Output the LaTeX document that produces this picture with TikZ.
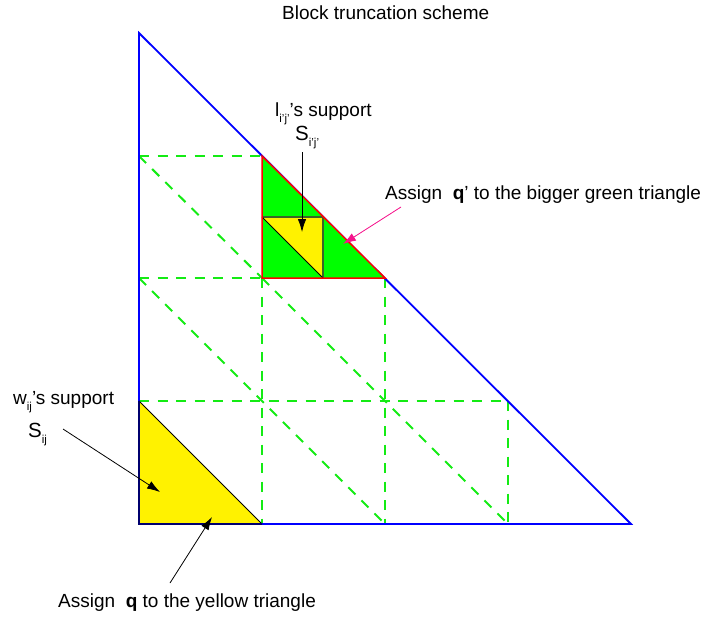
\documentclass[tikz,border=0pt]{standalone}
\usepackage{fontspec}
\setmainfont{Liberation Sans}
\usetikzlibrary{arrows.meta}
\definecolor{grn}{RGB}{0,255,0}
\definecolor{dgrn}{RGB}{20,235,20}
\definecolor{pinkarrow}{RGB}{245,20,140}
\definecolor{innerline}{RGB}{60,100,40}
\definecolor{navyline}{RGB}{0,0,110}
\newcommand\subtxt[1]{\raisebox{-6.5pt}{\fontsize{11.5}{12}\selectfont #1}}
\begin{document}
\begin{tikzpicture}[x=1pt,y=-1pt,
  gridline/.style={draw=dgrn,line width=2pt,dash pattern=on 10pt off 8.5pt},
  outline/.style={draw=blue,line width=1.8pt},
  lbl/.style={inner sep=0pt,anchor=base west,font=\fontsize{19}{22}\selectfont},
  biglbl/.style={lbl,font=\fontsize{20.5}{22}\selectfont},
  arr/.style={line width=0.8pt,-{Latex[length=13pt,width=8.5pt]}}
]
\useasboundingbox (0,0) rectangle (706,619);
% corners
\coordinate (T) at (139,33);
\coordinate (BL) at (139,524);
\coordinate (BR) at (631,524);
% dashed block grid
\draw[gridline] (139,156) -- (262,156);
\draw[gridline] (139,278) -- (385,278);
\draw[gridline] (139,401) -- (508,401);
\draw[gridline] (262,278) -- (262,524);
\draw[gridline] (385,278) -- (385,524);
\draw[gridline] (508,401) -- (508,524);
\draw[gridline] (139,156) -- (262,278);
\draw[gridline] (139,278) -- (385,524);
\draw[gridline] (262,278) -- (508,524);
% outer triangle
\draw[outline] (T) -- (BL) -- (BR) -- cycle;
% yellow triangle
\fill[yellow] (139,401) -- (139,524) -- (262,524) -- cycle;
\draw[black,line width=1pt] (139,401) -- (262,524);
\draw[navyline,line width=1.8pt] (139,401) -- (139,524) -- (262,524);
% green triangle
\fill[grn] (262,156) -- (262,278) -- (385,278) -- cycle;
\fill[yellow] (262,217) -- (323,217) -- (323,278) -- cycle;
\draw[innerline,line width=1.5pt] (262,217) -- (323,217) -- (323,278);
\draw[black,line width=0.8pt] (262,217) -- (323,278);
\draw[red,line width=1.5pt] (262,156) -- (262,278) -- (385,278) -- cycle;
% labels
\node[lbl] (title) at (282,19) {Block truncation scheme};
\node[lbl] (lsup) at (275,116) {l\subtxt{i'j'}'s support};
\node[biglbl] (lS) at (295,140) {S\subtxt{i'j'}};
\node[lbl] (qp) at (385,199) {Assign \ \textbf{q}' to the bigger green triangle};
\node[lbl] (wsup) at (13,404) {w\subtxt{ij}'s support};
\node[biglbl] (wS) at (28,437) {S\subtxt{ij}};
\node[lbl] (qy) at (58,607) {Assign \ \textbf{q} to the yellow triangle};
% arrows
\coordinate (a1s) at (302,152);
\coordinate (a1e) at (302,232);
\coordinate (a2s) at (401,207);
\coordinate (a2e) at (343,244);
\coordinate (a3s) at (63,429);
\coordinate (a3e) at (160,492);
\coordinate (a4s) at (170,583);
\coordinate (a4e) at (212,517);
\draw[arr] (a1s) -- (a1e);
\draw[arr,draw=pinkarrow,fill=pinkarrow] (a2s) -- (a2e);
\draw[arr] (a3s) -- (a3e);
\draw[arr] (a4s) -- (a4e);
\end{tikzpicture}
\end{document}
